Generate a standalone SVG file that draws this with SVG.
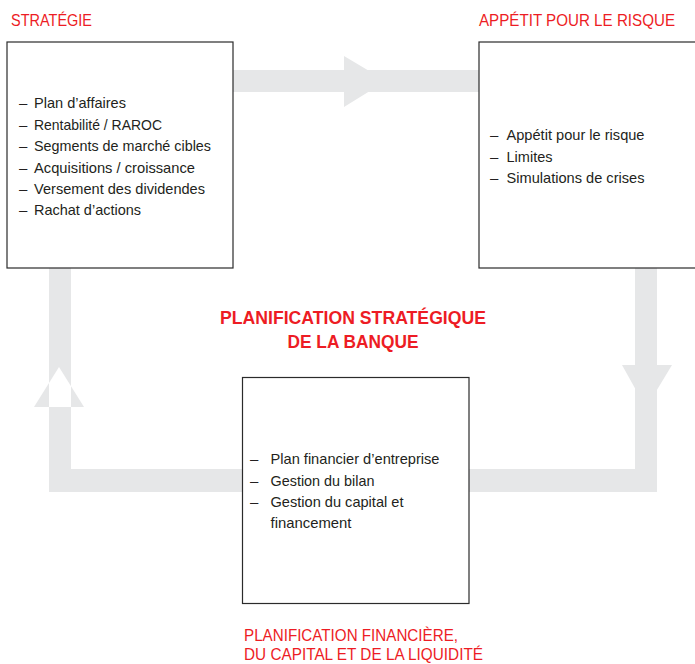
<svg xmlns="http://www.w3.org/2000/svg" width="695" height="664" viewBox="0 0 695 664">
<style>
.band{fill:#e6e7e8;stroke:none}
.box{fill:#ffffff;stroke:#2b2b2b;stroke-width:1.2}
.t{font-family:"Liberation Sans",Arial,sans-serif;font-size:15px;fill:#231f20}
.h{font-family:"Liberation Sans",Arial,sans-serif;font-size:17px;fill:#ed1c24}
.hb{font-family:"Liberation Sans",Arial,sans-serif;font-size:17.5px;font-weight:bold;fill:#ed1c24}
</style>
<rect width="695" height="664" fill="#ffffff"/>
<g id="connectors">
<path class="band" d="M233,70 H479 V92 H233 Z M344,56 L386,81 L344,107 Z"/>
<path class="band" d="M635,268 H657 V492 H635 Z M622,365 H672 L646,408 Z"/>
<path class="band" d="M49,469 H657 V492 H49 Z"/>
<path class="band" d="M49,268 H71 V492 H49 Z M34,407 H84 L59,367 Z"/>
</g>
<g id="title-strategie"><text class="h" x="11" y="26" textLength="81" lengthAdjust="spacingAndGlyphs">STRATÉGIE</text></g>
<g id="title-appetit"><text class="h" x="479" y="26" textLength="196" lengthAdjust="spacingAndGlyphs">APPÉTIT POUR LE RISQUE</text></g>
<g id="node-strategie">
<rect class="box" x="7" y="42" width="226" height="226"/>
<g class="t">
<text x="19" y="108">–</text><text x="34" y="108" textLength="92" lengthAdjust="spacingAndGlyphs">Plan d’affaires</text>
<text x="19" y="129.5">–</text><text x="34" y="129.5" textLength="128" lengthAdjust="spacingAndGlyphs">Rentabilité / RAROC</text>
<text x="19" y="151">–</text><text x="34" y="151" textLength="177" lengthAdjust="spacingAndGlyphs">Segments de marché cibles</text>
<text x="19" y="172.5">–</text><text x="34" y="172.5" textLength="161" lengthAdjust="spacingAndGlyphs">Acquisitions / croissance</text>
<text x="19" y="194">–</text><text x="34" y="194" textLength="171" lengthAdjust="spacingAndGlyphs">Versement des dividendes</text>
<text x="19" y="215">–</text><text x="34" y="215" textLength="107" lengthAdjust="spacingAndGlyphs">Rachat d’actions</text>
</g>
</g>
<g id="node-appetit">
<rect class="box" x="479" y="42" width="222" height="226"/>
<g class="t">
<text x="490" y="140">–</text><text x="506.5" y="140" textLength="138" lengthAdjust="spacingAndGlyphs">Appétit pour le risque</text>
<text x="490" y="161.5">–</text><text x="506.5" y="161.5" textLength="46" lengthAdjust="spacingAndGlyphs">Limites</text>
<text x="490" y="183">–</text><text x="506.5" y="183" textLength="138" lengthAdjust="spacingAndGlyphs">Simulations de crises</text>
</g>
</g>
<g id="title-center">
<text class="hb" x="353" y="323.5" text-anchor="middle" textLength="266" lengthAdjust="spacingAndGlyphs">PLANIFICATION STRATÉGIQUE</text>
<text class="hb" x="353" y="347.5" text-anchor="middle" textLength="131" lengthAdjust="spacingAndGlyphs">DE LA BANQUE</text>
</g>
<g id="node-financier">
<rect class="box" x="242.5" y="377.5" width="226.5" height="226"/>
<g class="t">
<text x="250" y="464">–</text><text x="270.5" y="464" textLength="169" lengthAdjust="spacingAndGlyphs">Plan financier d’entreprise</text>
<text x="250" y="485.5">–</text><text x="270.5" y="485.5" textLength="104" lengthAdjust="spacingAndGlyphs">Gestion du bilan</text>
<text x="250" y="507">–</text><text x="270.5" y="507" textLength="133" lengthAdjust="spacingAndGlyphs">Gestion du capital et</text>
<text x="270.5" y="528" textLength="81" lengthAdjust="spacingAndGlyphs">financement</text>
</g>
</g>
<g id="title-financier">
<text class="h" x="244" y="641" textLength="214" lengthAdjust="spacingAndGlyphs">PLANIFICATION FINANCIÈRE,</text>
<text class="h" x="244" y="660" textLength="239" lengthAdjust="spacingAndGlyphs">DU CAPITAL ET DE LA LIQUIDITÉ</text>
</g>
</svg>
